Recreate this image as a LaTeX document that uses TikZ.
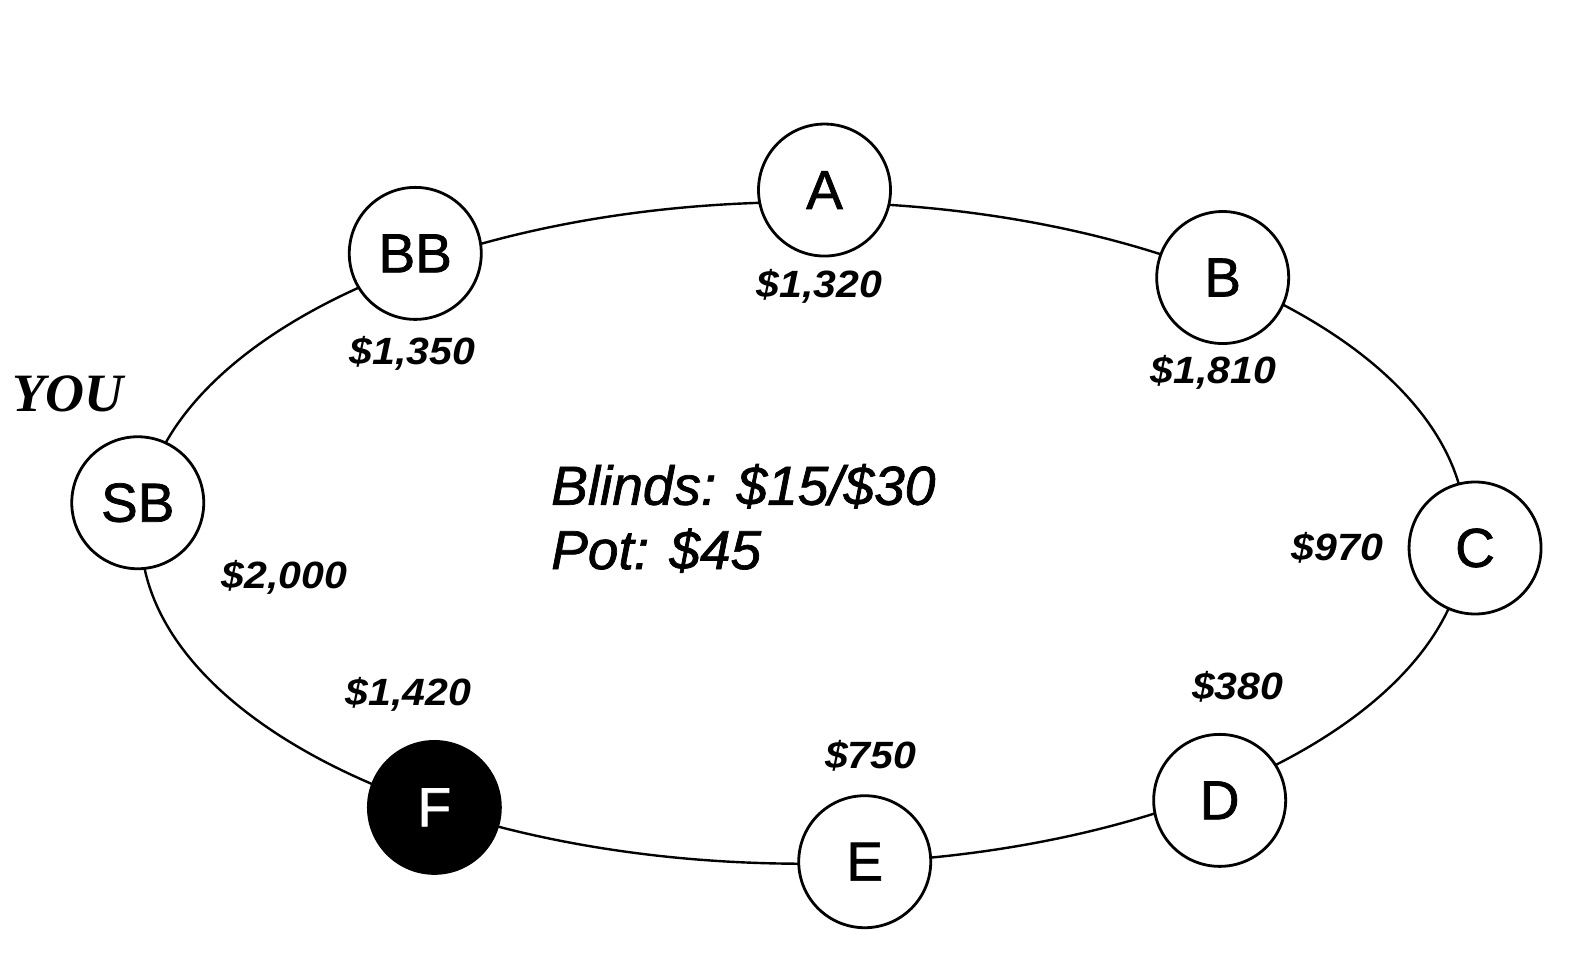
\documentclass[tikz,border=0pt]{standalone}
\usepackage{fontspec}
\newfontfamily\arialf[FakeBold=1.3]{Liberation Sans}
\newfontfamily\arialstack[FakeStretch=1.08]{Liberation Sans}
\newfontfamily\tnrf{Liberation Serif}
\begin{document}
\begin{tikzpicture}[x=1pt,y=-1pt,
  seat/.style={circle,draw=black,fill=white,line width=2.8pt,minimum size=132pt,inner sep=0pt,
    font=\arialf\fontsize{55}{60}\selectfont},
  folded/.style={seat,fill=black,text=white},
  stack/.style={anchor=base,inner sep=0pt,font=\arialstack\bfseries\itshape\fontsize{38}{44}\selectfont},
  info/.style={anchor=base west,inner sep=0pt,font=\arialf\itshape\fontsize{55}{64}\selectfont},
  tableline/.style={draw=black,line width=2.4pt}]
\useasboundingbox (0,0) rectangle (1576,961);
\fill[white] (0,0) rectangle (1576,961);
\begin{scope}[scale=1.0055]
\draw[tableline] (799,530) ellipse [x radius=659, y radius=329];
\node[seat] (A) at (820,189) {A};
\node[seat] (BB) at (413,252) {BB};
\node[seat] (B) at (1216,276) {B};
\node[seat] (SB) at (137,500) {SB};
\node[seat] (C) at (1467,545) {C};
\node[seat] (D) at (1213,796) {D};
\node[seat] (E) at (860,857) {E};
\node[folded] (F) at (432,803) {F};
\node[stack] (sA) at (815,296) {\$1,320};
\node[stack] (sBB) at (410,363) {\$1,350};
\node[stack] (sB) at (1207,381) {\$1,810};
\node[stack] (sSB) at (283,585) {\$2,000};
\node[stack] (sC) at (1330,557) {\$970};
\node[stack] (sD) at (1231,696) {\$380};
\node[stack] (sE) at (866,764) {\$750};
\node[stack] (sF) at (406,702) {\$1,420};
\node[anchor=base,inner sep=0pt,font=\tnrf\bfseries\itshape\fontsize{54}{60}\selectfont] (you) at (68,409) {YOU};
\node[info] (blinds) at (548,502) {Blinds: \$15/\$30};
\node[info] (pot) at (548,566) {Pot: \$45};
\end{scope}
\end{tikzpicture}
\end{document}
